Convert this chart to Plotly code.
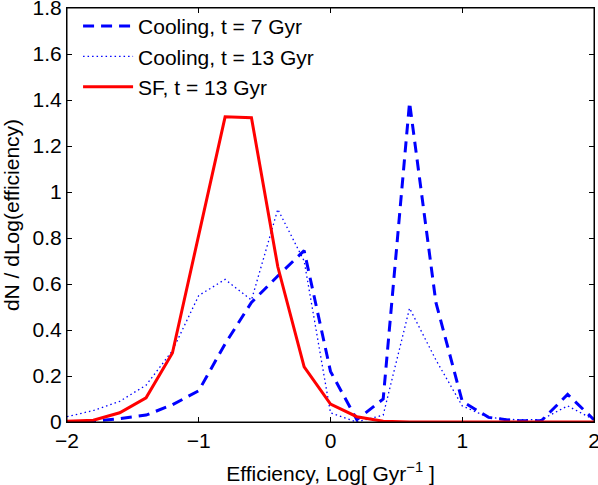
import plotly.graph_objects as go

x_vals = [-2.0, -1.8, -1.6, -1.4, -1.2, -1.0, -0.8, -0.6, -0.4, -0.2, 0.0,
          0.2, 0.4, 0.6, 0.8, 1.0, 1.2, 1.4, 1.6, 1.8, 2.0]
cooling_7 = [0.0, 0.003, 0.015, 0.03, 0.075, 0.136, 0.34, 0.52, 0.635, 0.745, 0.22,
             0.01, 0.1, 1.39, 0.52, 0.09, 0.02, 0.005, 0.005, 0.12, 0.01]
cooling_13 = [0.023, 0.05, 0.09, 0.16, 0.31, 0.55, 0.62, 0.53, 0.925, 0.70, 0.04,
              0.0, 0.03, 0.495, 0.27, 0.07, 0.02, 0.01, 0.01, 0.07, 0.01]
sf_13 = [0.003, 0.008, 0.04, 0.105, 0.30, 0.81, 1.327, 1.323, 0.675, 0.24, 0.078,
         0.023, 0.003, 0.0, 0.0, 0.0, 0.0, 0.0, 0.0, 0.0, 0.0]

x_ticks = [-2, -1, 0, 1, 2]
y_ticks = [0, 0.2, 0.4, 0.6, 0.8, 1.0, 1.2, 1.4, 1.6, 1.8]
y_ticktext = ["0", "0.2", "0.4", "0.6", "0.8", "1", "1.2", "1.4", "1.6", "1.8"]

font_family = "Liberation Sans, Arial, sans-serif"
fs = 21

fig = go.Figure()
fig.add_trace(go.Scatter(x=x_vals, y=cooling_7, mode="lines", name="Cooling, t = 7 Gyr",
                         line=dict(color="#0000FF", width=3, dash="11px,7px")))
fig.add_trace(go.Scatter(x=x_vals, y=cooling_13, mode="lines", name="Cooling, t = 13 Gyr",
                         line=dict(color="#0000FF", width=1.3, dash="1.5px,3px")))
fig.add_trace(go.Scatter(x=x_vals, y=sf_13, mode="lines", name="SF, t = 13 Gyr",
                         line=dict(color="#FF0000", width=3)))

axis_common = dict(showgrid=False, zeroline=False, showline=True, linecolor="black",
                   linewidth=1, mirror="ticks", ticks="inside", ticklen=5,
                   tickcolor="black", ticklabeloverflow="allow", automargin=False,
                   tickfont=dict(size=fs, color="black", family=font_family))

fig.update_layout(
    width=598, height=485,
    margin=dict(l=67, r=4, t=8, b=63, autoexpand=False),
    paper_bgcolor="white", plot_bgcolor="white",
    font=dict(family=font_family, size=fs, color="black"),
    xaxis=dict(range=[-2.0001, 2.0001], tickvals=x_ticks,
               title=dict(text="Efficiency, Log[ Gyr<sup>\u22121</sup> ]",
                          font=dict(size=fs)),
               **axis_common),
    yaxis=dict(range=[0, 1.8001], tickvals=y_ticks, ticktext=y_ticktext,
               title=dict(text="dN / dLog(efficiency)", font=dict(size=fs)),
               **axis_common),
    legend=dict(x=0.021, y=1.005, xanchor="left", yanchor="top",
                bgcolor="rgba(0,0,0,0)", borderwidth=0,
                font=dict(size=fs, color="black"), itemwidth=50, tracegroupgap=0),
    showlegend=True,
    shapes=[dict(type="rect", xref="paper", yref="paper", x0=0, x1=1, y0=0, y1=1,
                 line=dict(color="black", width=1), fillcolor="rgba(0,0,0,0)",
                 layer="above")],
)

fig.write_html("out.html", config={"displayModeBar": False},
               post_script="document.body.style.margin='0';document.body.style.overflow='hidden';")
